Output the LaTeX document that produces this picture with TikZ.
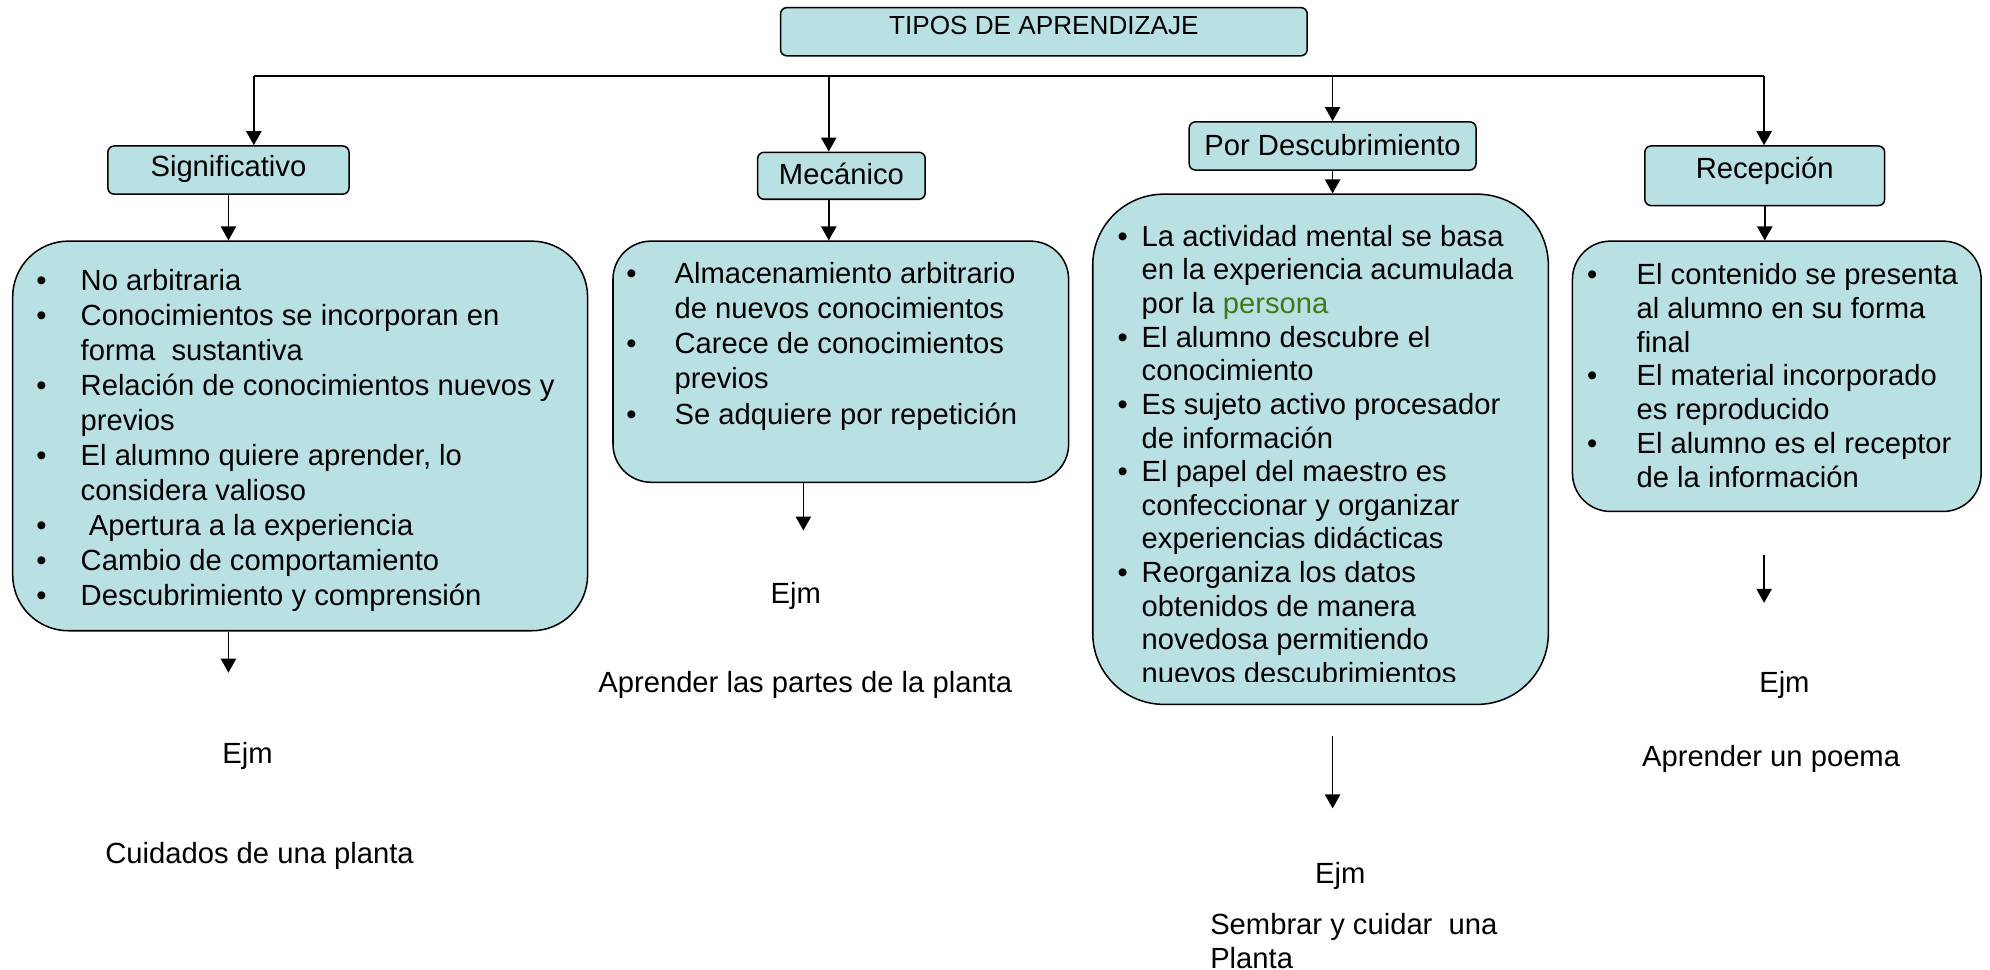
\documentclass[tikz,border=0pt]{standalone}
\usepackage{fontspec}
\setmainfont{Liberation Sans}
\usetikzlibrary{arrows.meta,positioning}
\definecolor{boxfill}{RGB}{185,224,227}
\definecolor{persgreen}{RGB}{62,122,28}
\begin{document}
\begin{tikzpicture}[x=0.5pt,y=-0.5pt,>={Triangle[length=5.5pt,width=6pt]},line width=0.6pt,
  tbox/.style={draw=black,fill=boxfill,rounded corners=2.5pt,inner sep=0pt,font=\fontsize{11.5}{13.8}\selectfont,text height=8.3pt},
  bigbox/.style={draw=black,fill=boxfill,inner sep=0pt},
  list/.style={anchor=base west,inner sep=0pt},
  ejm/.style={inner sep=0pt,font=\fontsize{11.5}{13.8}\selectfont,text height=8.3pt,text depth=0pt}]
\useasboundingbox (0,0) rectangle (1568,764);
\node[tbox,minimum width=207.5pt,minimum height=19pt,font=\fontsize{10.3}{12}\selectfont,text height=7.4pt,text depth=5pt] at (822.5,25) (tipos) {TIPOS DE APRENDIZAJE};
\node[tbox,minimum width=95pt,minimum height=19pt,text depth=3pt] at (180,134) (sig) {Significativo};
\node[tbox,minimum width=66pt,minimum height=18.5pt,text depth=1.5pt] at (663,138.5) (mec) {Mecánico};
\node[tbox,minimum width=113pt,minimum height=19pt,text depth=1pt] at (1050,115) (pord) {Por Descubrimiento};
\node[tbox,minimum width=94.5pt,minimum height=23.5pt,text depth=6.5pt] at (1390.5,138.5) (rec) {Recepción};
\coordinate (bar-sig) at (200,60);
\coordinate (bar-mec) at (653,60);
\coordinate (bar-pord) at (1050,60);
\coordinate (bar-rec) at (1390,60);
\draw (bar-sig) -- (bar-rec);
\draw[->] (bar-sig) -- (bar-sig |- sig.north);
\draw[->] (bar-mec) -- (bar-mec |- mec.north);
\draw[->] (bar-pord) -- (pord.north);
\draw[->] (bar-rec) -- (bar-rec |- rec.north);
\node[bigbox,rounded corners=22pt,minimum width=226.5pt,minimum height=153.5pt] at (236.5,343.5) (sig-box) {};
\node[bigbox,rounded corners=15pt,minimum width=179.5pt,minimum height=95pt] at (662.5,285) (mec-box) {};
\node[bigbox,rounded corners=28pt,minimum width=179.5pt,minimum height=201pt] at (1040.5,354) (pord-box) {};
\node[bigbox,rounded corners=15pt,minimum width=161pt,minimum height=106.5pt] at (1400,296.5) (rec-box) {};
\draw[->] (sig.south) -- (sig.south |- sig-box.north);
\draw[->] (bar-mec |- mec.south) -- (bar-mec |- mec-box.north);
\draw[->] (pord.south) -- (pord.south |- pord-box.north);
\draw[->] (rec.south) -- (rec.south |- rec-box.north);
\node[list,font=\fontsize{11.5}{13.8}\selectfont] at (28,229) (sig-list) {\begin{tabular}[t]{@{}p{17.5pt}@{}l@{}}
\textbullet & No arbitraria\\
\textbullet & Conocimientos se incorporan en\\
 & forma~ sustantiva\\
\textbullet & Relación de conocimientos nuevos y\\
 & previos\\
\textbullet & El alumno quiere aprender, lo\\
 & considera valioso\\
\textbullet & \ Apertura a la experiencia\\
\textbullet & Cambio de comportamiento\\
\textbullet & Descubrimiento y comprensión
\end{tabular}};
\node[list,font=\fontsize{11.5}{13.9}\selectfont] at (493,223) (mec-list) {\begin{tabular}[t]{@{}p{19pt}@{}l@{}}
\textbullet & Almacenamiento arbitrario\\
 & de nuevos conocimientos\\
\textbullet & Carece de conocimientos\\
 & previos\\
\textbullet & Se adquiere por repetición
\end{tabular}};
\begin{scope}
\clip (pord-box.north west) rectangle ([yshift=9.5pt]pord-box.south east);
\node[list,font=\fontsize{11.5}{13.25}\selectfont] at (880,194) (pord-list) {\begin{tabular}[t]{@{}p{9.5pt}@{}l@{}}
\textbullet & La actividad mental se basa\\
 & en la experiencia acumulada\\
 & por la {\color{persgreen}persona}\\
\textbullet & El alumno descubre el\\
 & conocimiento\\
\textbullet & Es sujeto activo procesador\\
 & de información\\
\textbullet & El papel del maestro es\\
 & confeccionar y organizar\\
 & experiencias didácticas\\
\textbullet & Reorganiza los datos\\
 & obtenidos de manera\\
 & novedosa permitiendo\\
 & nuevos descubrimientos
\end{tabular}};
\end{scope}
\node[list,font=\fontsize{11.5}{13.35}\selectfont] at (1250,224) (rec-list) {\begin{tabular}[t]{@{}p{19.5pt}@{}l@{}}
\textbullet & El contenido se presenta\\
 & al alumno en su forma\\
 & final\\
\textbullet & El material incorporado\\
 & es reproducido\\
\textbullet & El alumno es el receptor\\
 & de la información
\end{tabular}};
\coordinate (sig-tip) at (180,530);
\coordinate (mec-tip) at (633,418);
\coordinate (pord-tail) at (1050,580);
\coordinate (pord-tip) at (1050,637);
\coordinate (rec-tail) at (1390,437);
\coordinate (rec-tip) at (1390,475);
\draw[->] (sig-tip |- sig-box.south) -- (sig-tip);
\draw[->] (mec-tip |- mec-box.south) -- (mec-tip);
\draw[->] (pord-tail) -- (pord-tip);
\draw[->] (rec-tail) -- (rec-tip);
\node[ejm] at (195,593) (sig-ejm) {Ejm};
\node[ejm] at (204.5,672) (sig-ex) {Cuidados de una planta};
\node[ejm] at (627,467) (mec-ejm) {Ejm};
\node[ejm] at (634.5,537) (mec-ex) {Aprender las partes de la planta};
\node[ejm] at (1056,688) (pord-ejm) {Ejm};
\node[inner sep=0pt,font=\fontsize{11.5}{13.5}\selectfont,align=left,anchor=west] at (953,741.5) (pord-ex) {Sembrar y cuidar~ una\\Planta};
\node[ejm] at (1406,537) (rec-ejm) {Ejm};
\node[ejm] at (1395.5,596) (rec-ex) {Aprender un poema};
\end{tikzpicture}
\end{document}
